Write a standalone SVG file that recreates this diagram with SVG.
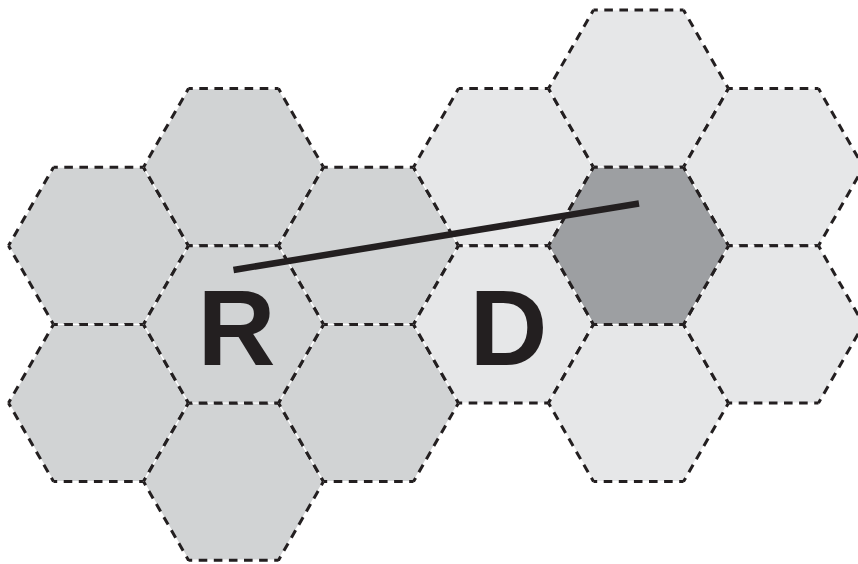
<svg xmlns="http://www.w3.org/2000/svg" xmlns:xlink="http://www.w3.org/1999/xlink" width="858" height="564" viewBox="0 0 858 564">
<style>
.mid{fill:#d1d3d4}
.light{fill:#e6e7e8}
.dark{fill:#9d9fa2}
.fillshape{stroke:#ffffff;stroke-width:1.2}
.edge{fill:none;stroke:#231f20;stroke-width:3;stroke-dasharray:8.6 6.5;stroke-dashoffset:4.3}
.lbl{font-family:"Liberation Sans",Arial,sans-serif;font-weight:bold;font-size:108px;fill:#231f20;text-anchor:middle}
.conn{stroke:#231f20;stroke-width:6.5;fill:none}
</style>
<defs>
<polygon id="hf" points="-90,0 -45,-78.6 45,-78.6 90,0 45,78.6 -45,78.6"/>
<path id="he" d="M-90,0L-45,-78.6M-45,-78.6L45,-78.6M45,-78.6L90,0M90,0L45,78.6M45,78.6L-45,78.6M-45,78.6L-90,0"/>
</defs>
<rect width="858" height="564" fill="#ffffff"/>
<g id="hex-c0-r3" transform="translate(98.5,245.8)"><use href="#hf" class="mid fillshape"/><use href="#he" class="edge"/></g>
<g id="hex-c0-r5" transform="translate(98.5,403)"><use href="#hf" class="mid fillshape"/><use href="#he" class="edge"/></g>
<g id="hex-c1-r2" transform="translate(233.5,167.2)"><use href="#hf" class="mid fillshape"/><use href="#he" class="edge"/></g>
<g id="hex-c1-r6" transform="translate(233.5,481.6)"><use href="#hf" class="mid fillshape"/><use href="#he" class="edge"/></g>
<g id="hex-c2-r3" transform="translate(368.5,245.8)"><use href="#hf" class="mid fillshape"/><use href="#he" class="edge"/></g>
<g id="hex-c2-r5" transform="translate(368.5,403)"><use href="#hf" class="mid fillshape"/><use href="#he" class="edge"/></g>
<g id="hex-R" transform="translate(233.5,324.4)"><use href="#hf" class="mid fillshape"/><use href="#he" class="edge"/><text class="lbl" x="3" y="40.6">R</text></g>
<g id="hex-c3-r2" transform="translate(503.5,167.2)"><use href="#hf" class="light fillshape"/><use href="#he" class="edge"/></g>
<g id="hex-D" transform="translate(503.5,324.4)"><use href="#hf" class="light fillshape"/><use href="#he" class="edge"/><text class="lbl" x="5" y="40.6">D</text></g>
<g id="hex-c4-r1" transform="translate(638.5,88.6)"><use href="#hf" class="light fillshape"/><use href="#he" class="edge"/></g>
<g id="hex-c4-r5" transform="translate(638.5,403)"><use href="#hf" class="light fillshape"/><use href="#he" class="edge"/></g>
<g id="hex-c5-r2" transform="translate(773.5,167.2)"><use href="#hf" class="light fillshape"/><use href="#he" class="edge"/></g>
<g id="hex-c5-r4" transform="translate(773.5,324.4)"><use href="#hf" class="light fillshape"/><use href="#he" class="edge"/></g>
<g id="hex-target" transform="translate(638.5,245.8)"><use href="#hf" class="dark fillshape"/><use href="#he" class="edge"/></g>
<g id="connectors">
<line class="conn" x1="233.5" y1="270" x2="639" y2="203.5"/>
</g>
</svg>
